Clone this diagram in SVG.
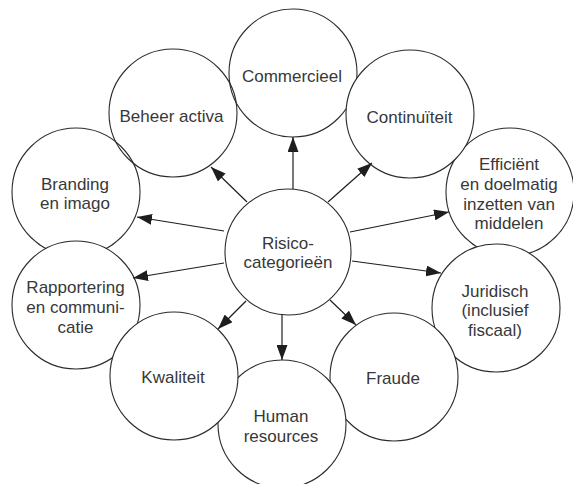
<svg xmlns="http://www.w3.org/2000/svg" width="573" height="484" viewBox="0 0 573 484">
<defs>
<style>
.c{fill:#fff;stroke:#2b2b2b;stroke-width:1.1}
.o{fill:none;stroke:#2b2b2b;stroke-width:1.1}
.t{font-family:"Liberation Sans",Arial,sans-serif;font-size:17px;fill:#383838;text-anchor:middle}
.a{stroke:#1e1e1e;stroke-width:1.2;fill:none;marker-end:url(#ah)}
</style>
<marker id="ah" viewBox="0 0 15 11" refX="15" refY="5.5" markerWidth="15" markerHeight="11" markerUnits="userSpaceOnUse" orient="auto">
<path d="M0,0 L15,5.5 L0,11 z" fill="#1e1e1e"/>
</marker>
</defs>
<rect width="573" height="484" fill="#fff"/>
<g id="efficient"><circle class="c" cx="510" cy="192" r="64"/><text class="t"><tspan x="509" y="170">Efficiënt</tspan><tspan x="509" y="190">en doelmatig</tspan><tspan x="509" y="210">inzetten van</tspan><tspan x="509" y="229">middelen</tspan></text></g>
<g id="juridisch"><circle class="c" cx="496" cy="308" r="64"/><text class="t"><tspan x="495" y="297">Juridisch</tspan><tspan x="495" y="316">(inclusief</tspan><tspan x="495" y="336">fiscaal)</tspan></text></g>
<g id="fraude"><circle class="c" cx="394" cy="377" r="64"/><text class="t" x="393" y="384">Fraude</text></g>
<g id="human"><circle class="c" cx="282" cy="424" r="64"/><text class="t"><tspan x="281" y="422">Human</tspan><tspan x="281" y="442">resources</tspan></text></g>
<g id="branding"><circle class="c" cx="76" cy="192" r="64"/><text class="t"><tspan x="75" y="190">Branding</tspan><tspan x="75" y="209">en imago</tspan></text></g>
<g id="rapportering"><circle class="c" cx="76" cy="305" r="64"/><text class="t"><tspan x="75.5" y="293">Rapportering</tspan><tspan x="75.5" y="313">en communi-</tspan><tspan x="75.5" y="333">catie</tspan></text></g>
<g id="kwaliteit"><circle class="c" cx="174" cy="376" r="64"/><text class="t" x="173" y="383">Kwaliteit</text></g>
<g id="commercieel"><circle class="c" cx="293" cy="73" r="64"/><text class="t" x="292" y="82">Commercieel</text></g>
<g id="continuiteit"><circle class="c" cx="410" cy="114" r="64"/><text class="t" x="409.5" y="123">Continuïteit</text></g>
<g id="beheer"><circle class="o" cx="173" cy="113" r="64"/><text class="t" x="171.5" y="122">Beheer activa</text></g>
<g id="risico"><circle class="c" cx="288" cy="252" r="63"/><text class="t"><tspan x="288" y="249">Risico-</tspan><tspan x="288" y="268">categorieën</tspan></text></g>
<g id="connectors">
<line class="a" x1="293" y1="189" x2="293" y2="137"/>
<line class="a" x1="247" y1="202" x2="211" y2="167"/>
<line class="a" x1="328" y1="202" x2="372" y2="163"/>
<line class="a" x1="224" y1="231" x2="137" y2="217"/>
<line class="a" x1="350" y1="232" x2="449" y2="212"/>
<line class="a" x1="224" y1="263" x2="133" y2="278"/>
<line class="a" x1="352" y1="261" x2="441" y2="273"/>
<line class="a" x1="246" y1="301" x2="218" y2="329"/>
<line class="a" x1="282" y1="314" x2="282" y2="360"/>
<line class="a" x1="330" y1="300" x2="356" y2="325"/>
</g>
</svg>
